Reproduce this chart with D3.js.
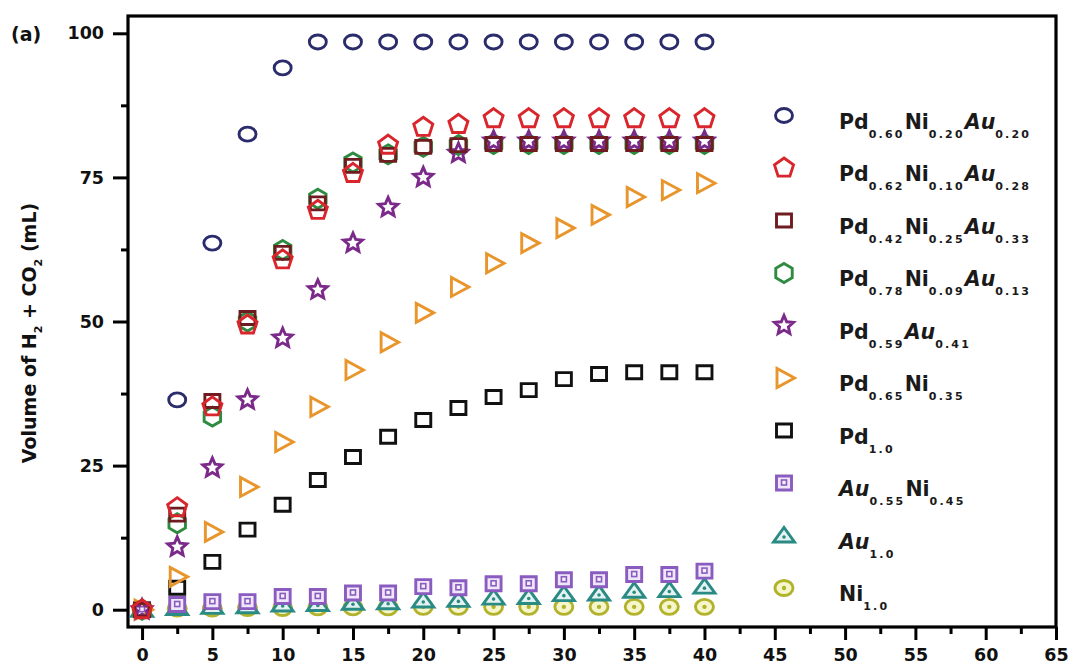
<!DOCTYPE html>
<html>
<head>
<meta charset="utf-8">
<script src="https://cdn.jsdelivr.net/npm/d3@7"></script>
<style>
  html, body { margin: 0; padding: 0; background: #fff; }
  svg { display: block; }
  text { font-family: "DejaVu Sans", Verdana, sans-serif; }
</style>
</head>
<body>
<svg id="chart" width="1073" height="666"></svg>
<script>
// Reaction time (min) and evolved gas volume (mL) for each catalyst
const time = [0, 2.5, 5, 7.5, 10, 12.5, 15, 17.5, 20, 22.5, 25, 27.5, 30, 32.5, 35, 37.5, 40];

const pd60Ni20Au20 = [0, 36.4, 63.6, 82.5, 94.0, 98.5, 98.5, 98.5, 98.5, 98.5, 98.5, 98.5, 98.5, 98.5, 98.5, 98.5, 98.5];
const pd62Ni10Au28 = [0, 17.7, 35.2, 49.4, 60.7, 69.3, 75.7, 80.6, 83.7, 84.2, 85.2, 85.2, 85.2, 85.2, 85.2, 85.2, 85.2];
const pd42Ni25Au33 = [0, 16.5, 36.2, 50.6, 61.9, 70.5, 77.0, 78.9, 80.3, 80.6, 80.8, 80.8, 80.8, 80.8, 80.8, 80.8, 80.8];
const pd78Ni09Au13 = [0, 15.0, 33.5, 50.0, 62.4, 71.3, 77.6, 79.0, 80.3, 80.6, 80.8, 80.8, 80.8, 80.8, 80.8, 80.8, 80.8];
const pd59Au41     = [0, 10.9, 24.6, 36.4, 47.1, 55.5, 63.6, 69.8, 75.0, 79.2, 81.3, 81.3, 81.3, 81.3, 81.3, 81.3, 81.3];
const pd65Ni35     = [0, 5.7, 13.5, 21.3, 29.1, 35.2, 41.6, 46.4, 51.5, 56.0, 60.1, 63.6, 66.2, 68.5, 71.6, 72.8, 74.0];
const pd10         = [0, 3.8, 8.3, 13.9, 18.2, 22.5, 26.5, 30.0, 32.9, 35.0, 36.9, 38.1, 40.0, 40.9, 41.2, 41.2, 41.2];
const au55Ni45     = [0, 0.9, 1.4, 1.4, 2.3, 2.3, 2.9, 2.9, 4.0, 3.8, 4.5, 4.5, 5.2, 5.2, 6.1, 6.1, 6.7];
const au10         = [0, 0.3, 0.5, 0.6, 0.9, 1.0, 1.2, 1.3, 1.6, 1.7, 2.1, 2.2, 2.7, 2.8, 3.3, 3.4, 4.0];
const ni10         = [0, 0.2, 0.2, 0.3, 0.3, 0.4, 0.4, 0.4, 0.5, 0.5, 0.5, 0.5, 0.5, 0.5, 0.5, 0.5, 0.5];

// Axis ticks
const xTicks = [0, 5, 10, 15, 20, 25, 30, 35, 40, 45, 50, 55, 60, 65];
const xMinorTicks = [2.5, 7.5, 12.5, 17.5, 22.5, 27.5, 32.5, 37.5, 42.5, 47.5, 52.5, 57.5, 62.5];
const yTicks = [0, 25, 50, 75, 100];
const yMinorTicks = [12.5, 37.5, 62.5, 87.5];

// Legend labels: [text, kind] where kind is "m" main, "s" subscript, "i" italic
const labelPd60 = [["Pd","m"],["0.60","s"],["Ni","m"],["0.20","s"],["Au","i"],["0.20","s"]];
const labelPd62 = [["Pd","m"],["0.62","s"],["Ni","m"],["0.10","s"],["Au","i"],["0.28","s"]];
const labelPd42 = [["Pd","m"],["0.42","s"],["Ni","m"],["0.25","s"],["Au","i"],["0.33","s"]];
const labelPd78 = [["Pd","m"],["0.78","s"],["Ni","m"],["0.09","s"],["Au","i"],["0.13","s"]];
const labelPd59 = [["Pd","m"],["0.59","s"],["Au","i"],["0.41","s"]];
const labelPd65 = [["Pd","m"],["0.65","s"],["Ni","m"],["0.35","s"]];
const labelPd10 = [["Pd","m"],["1.0","s"]];
const labelAu55 = [["Au","i"],["0.55","s"],["Ni","m"],["0.45","s"]];
const labelAu10 = [["Au","i"],["1.0","s"]];
const labelNi10 = [["Ni","m"],["1.0","s"]];

// Series table (legend order) with marker styling; z is the stacking order
const series = [
  { label: labelPd60, values: pd60Ni20Au20, shape: "circle",   stroke: "#2b2c6c", fill: "none",    z: 0 },
  { label: labelPd62, values: pd62Ni10Au28, shape: "pentagon", stroke: "#d9262c", fill: "none",    z: 9 },
  { label: labelPd42, values: pd42Ni25Au33, shape: "square",   stroke: "#6e1c1f", fill: "none",    z: 8 },
  { label: labelPd78, values: pd78Ni09Au13, shape: "hexagon",  stroke: "#2f8b3f", fill: "none",    z: 6 },
  { label: labelPd59, values: pd59Au41,     shape: "star",     stroke: "#7b2a8a", fill: "none",    z: 7 },
  { label: labelPd65, values: pd65Ni35,     shape: "triRight", stroke: "#e8952c", fill: "none",    z: 5 },
  { label: labelPd10, values: pd10,         shape: "square",   stroke: "#111111", fill: "none",    z: 4 },
  { label: labelAu55, values: au55Ni45,     shape: "squareDot",stroke: "#8a5cc0", fill: "#efe6fa", z: 3 },
  { label: labelAu10, values: au10,         shape: "triUpDot", stroke: "#2a8a84", fill: "#e4f3f1", z: 2 },
  { label: labelNi10, values: ni10,         shape: "circleDot",stroke: "#b3b22c", fill: "#f6f6cc", z: 1 }
];

const svg = d3.select("#chart");
const plot = { left: 128, right: 1056, top: 16, bottom: 627 };

const x = d3.scaleLinear().domain([-1, 65]).range([plot.left, plot.right]);
const y = d3.scaleLinear().domain([-3, 103]).range([plot.bottom, plot.top]);

// ---- marker geometry ----
function polygon(n, rx, ry, startDeg) {
  const pts = d3.range(n).map(i => {
    const a = (startDeg + 360 * i / n) * Math.PI / 180;
    return [rx * Math.cos(a), ry * Math.sin(a)];
  });
  return "M" + pts.map(p => p[0].toFixed(2) + "," + p[1].toFixed(2)).join("L") + "Z";
}
function ellipse(rx, ry) {
  return `M${-rx},0A${rx},${ry} 0 1,0 ${rx},0A${rx},${ry} 0 1,0 ${-rx},0Z`;
}
function star(ro, ri) {
  const pts = d3.range(10).map(i => {
    const r = i % 2 === 0 ? ro : ri;
    const a = (-90 + 36 * i) * Math.PI / 180;
    return [r * Math.cos(a), r * Math.sin(a)];
  });
  return "M" + pts.map(p => p[0].toFixed(2) + "," + p[1].toFixed(2)).join("L") + "Z";
}
function rect(w, h) {
  return `M${-w/2},${-h/2}H${w/2}V${h/2}H${-w/2}Z`;
}

function drawMarker(g, s) {
  const sw = 2.9;
  const add = d => g.append("path").attr("d", d)
      .attr("fill", s.fill).attr("stroke", s.stroke).attr("stroke-width", sw)
      .attr("stroke-linejoin", "miter");
  switch (s.shape) {
    case "circle":   add(ellipse(8.5, 7)); break;
    case "pentagon": add(polygon(5, 10, 10, -90)); break;
    case "square":   add(rect(15, 13)); break;
    case "hexagon":  add(polygon(6, 9.5, 9.5, -90)); break;
    case "star":     g.append("path").attr("d", star(10, 4.6)).attr("fill", "none")
                       .attr("stroke", s.stroke).attr("stroke-width", 2.9).attr("stroke-linejoin", "miter"); break;
    case "triRight": add("M-7,-9.5L-7,9.5L10.5,0Z"); break;
    case "squareDot":
      add(rect(15, 14));
      g.append("rect").attr("x", -2.5).attr("y", -3).attr("width", 5).attr("height", 5)
        .attr("fill", "#f4eefb").attr("stroke", s.stroke).attr("stroke-width", 1.6);
      break;
    case "triUpDot":
      add("M-10.5,6.5L10.5,6.5L0,-8Z");
      g.append("circle").attr("cx", 0).attr("cy", 1.5).attr("r", 1.8).attr("fill", s.stroke);
      break;
    case "circleDot":
      add(ellipse(9, 7.5));
      g.append("circle").attr("cx", 0).attr("cy", 0).attr("r", 2.2).attr("fill", s.stroke);
      break;
  }
}

// ---- frame and axes ----
const axisStyle = sel => {
  sel.select(".domain").remove();
  sel.selectAll("line").attr("stroke", "#000").attr("stroke-width", 3);
  sel.selectAll("text").attr("font-size", 17.5).attr("font-weight", "bold").attr("fill", "#111");
};

svg.append("g").attr("transform", `translate(0,${plot.bottom})`)
  .call(d3.axisBottom(x).tickValues(xMinorTicks).tickSize(7).tickFormat(""))
  .call(axisStyle);
svg.append("g").attr("transform", `translate(0,${plot.bottom})`)
  .call(d3.axisBottom(x).tickValues(xTicks).tickSize(13).tickPadding(9).tickFormat(d3.format("d")))
  .call(axisStyle);

svg.append("g").attr("transform", `translate(${plot.left},0)`)
  .call(d3.axisLeft(y).tickValues(yMinorTicks).tickSize(7).tickFormat(""))
  .call(axisStyle);
svg.append("g").attr("transform", `translate(${plot.left},0)`)
  .call(d3.axisLeft(y).tickValues(yTicks).tickSize(15).tickPadding(9).tickFormat(d3.format("d")))
  .call(axisStyle);

svg.append("rect")
  .attr("x", plot.left).attr("y", plot.top)
  .attr("width", plot.right - plot.left).attr("height", plot.bottom - plot.top)
  .attr("fill", "none").attr("stroke", "#000").attr("stroke-width", 3.2);

// ---- data markers (drawn back to front) ----
const markers = svg.append("g");
series.slice().sort((a, b) => a.z - b.z).forEach(s => {
  const pts = time.map((t, i) => ({ t, v: s.values[i] })).filter(p => p.v != null);
  markers.append("g").selectAll("g").data(pts).join("g")
    .attr("transform", p => `translate(${x(p.t)},${y(p.v)})`)
    .each(function () { drawMarker(d3.select(this), s); });
});

// ---- legend ----
const legendRow = d3.scaleLinear().domain([0, series.length - 1]).range([115.5, 588]);
const legend = svg.append("g");
series.forEach((s, i) => {
  const cy = legendRow(i);
  drawMarker(legend.append("g").attr("transform", `translate(784,${cy})`), s);
  const txt = legend.append("text")
    .attr("x", 839).attr("y", cy + 13)
    .attr("font-size", 20.5).attr("font-weight", "bold").attr("fill", "#1a1a1a");
  let down = false;
  s.label.forEach(([str, kind]) => {
    const ts = txt.append("tspan").text(str);
    if (kind === "s") {
      ts.attr("font-size", 11).attr("letter-spacing", 2.2).attr("dy", down ? 0 : 9);
      down = true;
    } else {
      ts.attr("dy", down ? -9 : 0);
      if (kind === "i") ts.attr("font-style", "italic");
      down = false;
    }
  });
});

// ---- axis title and panel tag ----
const yTitle = svg.append("text")
  .attr("transform", "translate(36,333) rotate(-90)")
  .attr("text-anchor", "middle")
  .attr("font-size", 19).attr("font-weight", "bold").attr("fill", "#111");
yTitle.append("tspan").text("Volume of H");
yTitle.append("tspan").text("2").attr("font-size", 11).attr("dy", 6);
yTitle.append("tspan").text(" + CO").attr("dy", -6);
yTitle.append("tspan").text("2").attr("font-size", 11).attr("dy", 6);
yTitle.append("tspan").text(" (mL)").attr("dy", -6);

svg.append("text")
  .attr("x", 11).attr("y", 41)
  .attr("font-size", 19).attr("font-weight", "bold").attr("fill", "#111")
  .text("(a)");
</script>
</body>
</html>
